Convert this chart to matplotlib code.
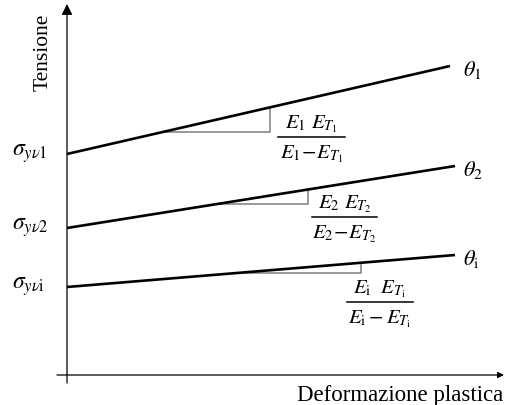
import matplotlib
matplotlib.use("Agg")
import matplotlib.pyplot as plt

plt.rcParams["mathtext.fontset"] = "stix"
plt.rcParams["font.family"] = ["Liberation Serif", "DejaVu Serif"]

# Bilinear hardening branches: yield stress at zero plastic strain and
# stress at the end of the drawn range (arbitrary units)
yield_labels = [r"$\sigma_{y\nu\mathrm{1}}$", r"$\sigma_{y\nu\mathrm{2}}$", r"$\sigma_{y\nu\mathrm{i}}$"]
temp_labels = [r"$\theta_\mathrm{1}$", r"$\theta_\mathrm{2}$", r"$\theta_\mathrm{i}$"]
strain_end = [383, 388, 388]
yield_stress = [221, 147, 88]
end_stress = [309, 209, 120]
# plastic strain range spanned by each slope triangle
tri_start = [96, 150, 170]
tri_end = [203, 241, 294]
# hardening modulus E*E_T/(E-E_T) written as numerator / denominator
mod_num = [r"$E_\mathrm{1}\ E_{T_\mathrm{1}}$",
           r"$E_\mathrm{2}\ E_{T_\mathrm{2}}$",
           r"$E_\mathrm{i}\ \ E_{T_\mathrm{i}}$"]
mod_den = [r"$E_\mathrm{1}\!-\!E_{T_\mathrm{1}}$",
           r"$E_\mathrm{2}\!-\!E_{T_\mathrm{2}}$",
           r"$E_\mathrm{i}-E_{T_\mathrm{i}}$"]
mod_bar_x = [(211, 278), (245, 310), (280, 346)]
mod_bar_y = [238, 158, 73]

fig = plt.figure(figsize=(5.05, 4.05), dpi=100)
ax = fig.add_axes([0, 0, 1, 1])
ax.set_xlim(-67, 438)
ax.set_ylim(-30, 375)
ax.axis("off")

# axes with arrow heads
ax.annotate("", xy=(0, 371), xytext=(0, -8),
            arrowprops=dict(arrowstyle="-|>", lw=0.9, color="black",
                            mutation_scale=16, shrinkA=0, shrinkB=0))
ax.annotate("", xy=(437, 0), xytext=(-10, 0),
            arrowprops=dict(arrowstyle="-|>", lw=0.9, color="black",
                            mutation_scale=9, shrinkA=0, shrinkB=0))

for k in range(3):
    x1, y0, y1 = strain_end[k], yield_stress[k], end_stress[k]
    slope = (y1 - y0) / x1
    ax.plot([0, x1], [y0, y1], color="black", lw=1.9, solid_capstyle="butt", zorder=3)

    xa, xb = tri_start[k], tri_end[k]
    ya = y0 + slope * xa
    yb = y0 + slope * xb
    ax.plot([xa, xb, xb], [ya, ya, yb], color="#7f7f7f", lw=1.1, zorder=2)

    ax.text(-55, y0, yield_labels[k], fontsize=17, ha="left", va="center")
    ax.text(396, y1 - 4, temp_labels[k], fontsize=16, ha="left", va="center")

    bx0, bx1 = mod_bar_x[k]
    by = mod_bar_y[k]
    cx = (bx0 + bx1) / 2
    ax.plot([bx0, bx1], [by, by], color="black", lw=1.1)
    ax.text(cx, by + 9, mod_num[k], fontsize=15, ha="center", va="baseline")
    ax.text(cx, by - 21, mod_den[k], fontsize=15, ha="center", va="baseline")

ax.text(-24, 323, "Tensione", rotation=90, fontsize=15.5, ha="center", va="center")
ax.text(436, -20, "Deformazione plastica", fontsize=16.5, ha="right", va="center")

fig.savefig("out.png", dpi=100)
